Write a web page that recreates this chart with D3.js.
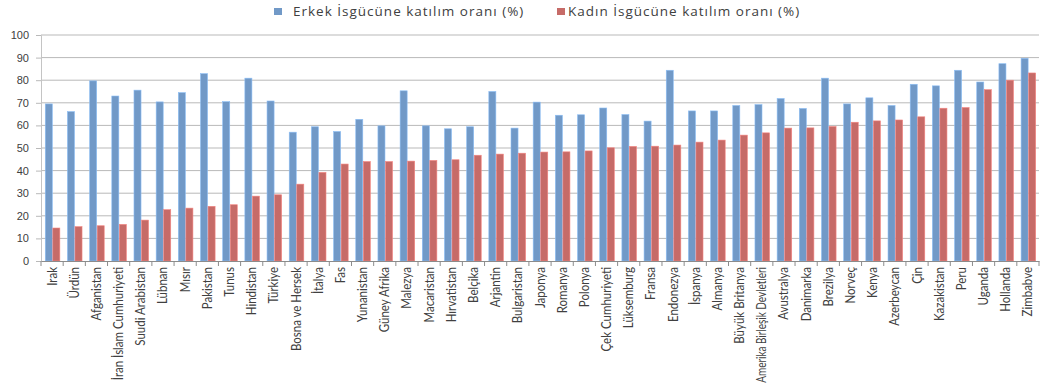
<!DOCTYPE html>
<html>
<head>
<meta charset="utf-8">
<script src="https://cdn.jsdelivr.net/npm/d3@7"></script>
<style>
  html, body { margin: 0; padding: 0; background: #fff; }
  svg { display: block; }
</style>
</head>
<body>
<svg id="chart" width="1047" height="389"></svg>
<script>
// Labour force participation rates by country, men vs women (%)
const countries = [
  "Irak", "Ürdün", "Afganistan", "İran İslam Cumhuriyeti", "Suudi Arabistan",
  "Lübnan", "Mısır", "Pakistan", "Tunus", "Hindistan", "Türkiye",
  "Bosna ve Hersek", "İtalya", "Fas", "Yunanistan", "Güney Afrika", "Malezya",
  "Macaristan", "Hırvatistan", "Belçika", "Arjantin", "Bulgaristan", "Japonya",
  "Romanya", "Polonya", "Çek Cumhuriyeti", "Lüksemburg", "Fransa", "Endonezya",
  "İspanya", "Almanya", "Büyük Britanya", "Amerika Birleşik Devletleri",
  "Avustralya", "Danimarka", "Brezilya", "Norveç", "Kenya", "Azerbeycan",
  "Çin", "Kazakistan", "Peru", "Uganda", "Hollanda", "Zimbabve"
];

const maleRate = [
  69.5, 66.1, 79.7, 73.0, 75.6, 70.4, 74.5, 82.9, 70.5, 80.9, 70.8,
  57.0, 59.4, 57.3, 62.7, 59.8, 75.3, 59.8, 58.5, 59.4, 75.0, 58.8, 70.3,
  64.5, 64.7, 67.7, 64.8, 61.9, 84.4, 66.4, 66.4, 68.8, 69.2, 71.9, 67.5,
  80.9, 69.5, 72.2, 68.8, 78.2, 77.5, 84.4, 79.2, 87.3, 89.7
];

const femaleRate = [
  14.6, 15.2, 15.6, 16.2, 18.1, 22.7, 23.4, 24.2, 24.9, 28.7, 29.3,
  34.0, 39.2, 42.9, 44.0, 44.0, 44.2, 44.5, 44.8, 46.8, 47.3, 47.7, 48.2,
  48.3, 48.7, 50.1, 50.7, 50.8, 51.3, 52.6, 53.5, 55.7, 56.7, 58.8, 58.9,
  59.5, 61.4, 62.0, 62.4, 63.8, 67.6, 67.9, 75.8, 80.0, 83.2
];

const seriesNames = ["Erkek İsgücüne katılım oranı (%)", "Kadın İsgücüne katılım oranı (%)"];
const seriesColors = ["#7199c7", "#c66b68"];
const yTicks = [0, 10, 20, 30, 40, 50, 60, 70, 80, 90, 100];

const rows = countries.map((c, i) => ({ country: c, values: [maleRate[i], femaleRate[i]] }));

const svg = d3.select("#chart");
const plotLeft = 41, plotRight = 1039, plotTop = 35, plotBottom = 261;

const x = d3.scaleBand().domain(countries).range([plotLeft, plotRight]).padding(0);
const x1 = d3.scaleBand().domain([0, 1])
  .range([x.bandwidth() * 0.17, x.bandwidth() * 0.85]).padding(0);
const y = d3.scaleLinear().domain([0, 100]).range([plotBottom, plotTop]);

// horizontal gridlines
svg.append("g")
  .selectAll("line")
  .data(yTicks.filter(t => t > 0))
  .join("line")
  .attr("x1", plotLeft).attr("x2", plotRight)
  .attr("y1", d => y(d)).attr("y2", d => y(d))
  .attr("stroke", "#b9b9b9").attr("stroke-width", 1);

// y axis
const yAxis = svg.append("g")
  .attr("transform", `translate(${plotLeft},0)`)
  .call(d3.axisLeft(y).tickValues(yTicks).tickSize(5).tickPadding(7));
yAxis.select(".domain").attr("stroke", "#c4c4c4");
yAxis.selectAll(".tick line").attr("stroke", "#b9b9b9");
yAxis.selectAll(".tick text")
  .attr("fill", "#404040")
  .style("font-family", "'Liberation Sans', Arial, sans-serif")
  .style("font-size", "11px");

// bars
const groups = svg.append("g")
  .selectAll("g")
  .data(rows)
  .join("g")
  .attr("transform", d => `translate(${x(d.country)},0)`);

groups.selectAll("rect")
  .data(d => d.values.map((v, k) => ({ k, v })))
  .join("rect")
  .attr("x", d => x1(d.k) + 0.5)
  .attr("width", x1.bandwidth() - 0.5)
  .attr("y", d => y(d.v))
  .attr("height", d => plotBottom - y(d.v))
  .attr("fill", d => seriesColors[d.k])
  .attr("stroke", d => d3.color(seriesColors[d.k]).brighter(0.6))
  .attr("stroke-width", 0.6);

// x axis
const xAxis = svg.append("g")
  .attr("transform", `translate(0,${plotBottom})`)
  .call(d3.axisBottom(x).tickSize(0).tickFormat(""));
xAxis.select(".domain").attr("stroke", "#8c8c8c");

// tick marks between categories
svg.append("g")
  .selectAll("line")
  .data(d3.range(countries.length + 1))
  .join("line")
  .attr("x1", i => plotLeft + i * x.step())
  .attr("x2", i => plotLeft + i * x.step())
  .attr("y1", plotBottom).attr("y2", plotBottom + 5)
  .attr("stroke", "#8c8c8c");

// category labels, rotated; long names are condensed to fit the bottom margin
const labelRoom = 116;
svg.append("g")
  .selectAll("text")
  .data(countries)
  .join("text")
  .attr("text-anchor", "end")
  .attr("fill", "#404040")
  .style("font-family", "Lato, 'Open Sans', sans-serif")
  .style("font-size", "12.5px")
  .text(d => d)
  .each(function (d) {
    const len = this.getComputedTextLength();
    const k = Math.min(0.92, labelRoom / len);
    d3.select(this).attr("transform",
      `translate(${x(d) + x.bandwidth() / 2 + 4.5},${plotBottom + 6}) rotate(-90) scale(${k},1)`);
  });

// legend
const legend = svg.append("g");
const legendX = [274, 557];
seriesNames.forEach((name, k) => {
  legend.append("rect")
    .attr("x", legendX[k]).attr("y", 8)
    .attr("width", 8).attr("height", 7)
    .attr("fill", seriesColors[k]);
  legend.append("text")
    .attr("x", legendX[k] + (k === 0 ? 19 : 11)).attr("y", 16)
    .attr("fill", "#404040")
    .style("font-family", "'Open Sans', sans-serif")
    .style("font-size", "13.5px")
    .style("letter-spacing", "1px")
    .text(name);
});
</script>
</body>
</html>
